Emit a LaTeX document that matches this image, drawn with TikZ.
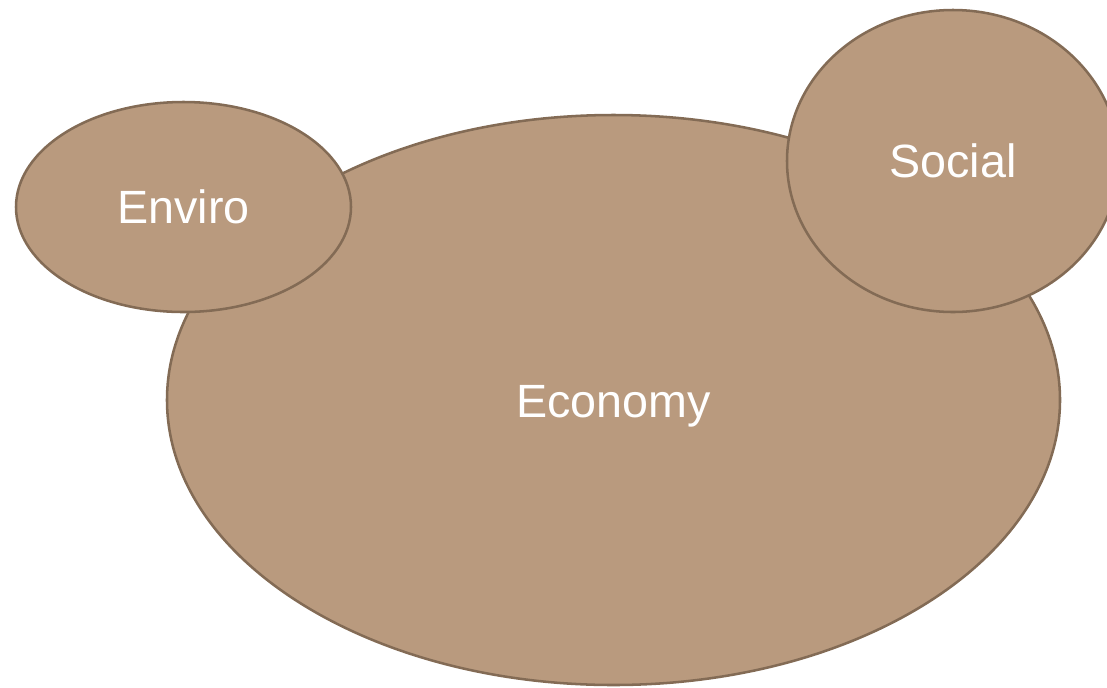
\documentclass[tikz,border=0pt]{standalone}
\usepackage{fontspec}
\setmainfont{Liberation Sans}
\usetikzlibrary{shapes.geometric}
\definecolor{blobfill}{HTML}{B99A7E}
\definecolor{blobline}{HTML}{836B55}
\tikzset{
  blob/.style={ellipse, draw=blobline, fill=blobfill, line width=1.9pt, inner sep=0pt,
    text=white, text depth=0pt, font=\fontsize{35}{40}\selectfont}
}
\begin{document}
\begin{tikzpicture}[x=0.75pt, y=-0.75pt]
\useasboundingbox (0,0) rectangle (1107,687);
\clip (0,0) rectangle (1107,687);
\node[blob, minimum width=669.75pt, minimum height=427.5pt] (economy) at (613.5,400) {\raisebox{-1.5pt}{Economy}};
\node[blob, minimum width=251.25pt, minimum height=157.5pt] (enviro) at (183.5,207) {Enviro};
\node[blob, minimum width=249pt, minimum height=226.5pt] (social) at (953,161) {Social};
\end{tikzpicture}
\end{document}
